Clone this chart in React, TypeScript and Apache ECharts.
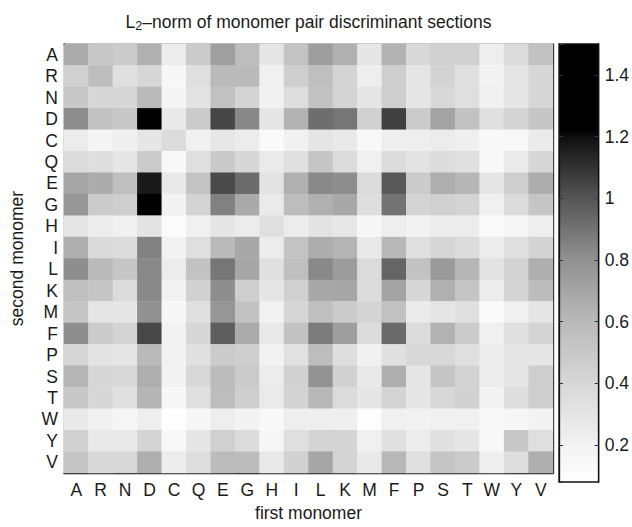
import React, { useEffect, useRef } from "react";
import * as echarts from "echarts";

// Amino-acid monomers, in the order used on both axes
const monomers = ["A", "R", "N", "D", "C", "Q", "E", "G", "H", "I", "L", "K", "M", "F", "P", "S", "T", "W", "Y", "V"];

// L2-norm of each discriminant section; one row per second monomer,
// one column per first monomer (same order as `monomers`)
const norms: number[][] = [
  /* A */ [0.67, 0.5, 0.48, 0.645, 0.245, 0.485, 0.73, 0.575, 0.3, 0.535, 0.735, 0.645, 0.29, 0.63, 0.39, 0.45, 0.445, 0.235, 0.375, 0.55],
  /* R */ [0.445, 0.575, 0.33, 0.4, 0.155, 0.345, 0.595, 0.595, 0.215, 0.46, 0.565, 0.425, 0.23, 0.46, 0.3, 0.43, 0.33, 0.19, 0.3, 0.405],
  /* N */ [0.5, 0.405, 0.405, 0.595, 0.17, 0.31, 0.55, 0.425, 0.21, 0.355, 0.54, 0.425, 0.3, 0.465, 0.3, 0.39, 0.345, 0.21, 0.3, 0.4],
  /* D */ [0.815, 0.545, 0.5, 1.5, 0.27, 0.48, 1.045, 0.83, 0.3, 0.635, 0.915, 0.89, 0.445, 1.06, 0.485, 0.71, 0.54, 0.33, 0.425, 0.515],
  /* C */ [0.245, 0.17, 0.22, 0.29, 0.36, 0.215, 0.28, 0.245, 0.13, 0.21, 0.3, 0.27, 0.145, 0.23, 0.23, 0.245, 0.22, 0.145, 0.145, 0.25],
  /* Q */ [0.36, 0.35, 0.29, 0.48, 0.145, 0.34, 0.49, 0.405, 0.26, 0.335, 0.525, 0.375, 0.215, 0.375, 0.315, 0.36, 0.33, 0.145, 0.25, 0.4],
  /* E */ [0.7, 0.665, 0.56, 1.17, 0.27, 0.535, 1.03, 0.925, 0.31, 0.645, 0.825, 0.815, 0.375, 0.99, 0.485, 0.655, 0.615, 0.29, 0.465, 0.66],
  /* G */ [0.77, 0.485, 0.465, 1.42, 0.2, 0.425, 0.855, 0.675, 0.265, 0.575, 0.645, 0.685, 0.35, 0.9, 0.425, 0.45, 0.425, 0.215, 0.36, 0.515],
  /* H */ [0.29, 0.245, 0.215, 0.31, 0.12, 0.215, 0.295, 0.245, 0.345, 0.245, 0.315, 0.28, 0.155, 0.23, 0.2, 0.245, 0.245, 0.13, 0.155, 0.23],
  /* I */ [0.655, 0.38, 0.36, 0.855, 0.2, 0.34, 0.595, 0.685, 0.245, 0.535, 0.66, 0.62, 0.27, 0.605, 0.345, 0.41, 0.36, 0.245, 0.33, 0.43],
  /* L */ [0.81, 0.595, 0.515, 0.825, 0.245, 0.54, 0.89, 0.695, 0.33, 0.56, 0.825, 0.745, 0.375, 0.945, 0.54, 0.755, 0.615, 0.315, 0.43, 0.655],
  /* K */ [0.565, 0.525, 0.375, 0.825, 0.2, 0.445, 0.81, 0.46, 0.29, 0.445, 0.685, 0.695, 0.36, 0.705, 0.405, 0.645, 0.525, 0.245, 0.42, 0.58],
  /* M */ [0.515, 0.3, 0.29, 0.8, 0.155, 0.33, 0.775, 0.54, 0.2, 0.41, 0.565, 0.48, 0.425, 0.55, 0.25, 0.3, 0.33, 0.135, 0.215, 0.3],
  /* F */ [0.81, 0.485, 0.425, 1.04, 0.2, 0.405, 0.97, 0.67, 0.27, 0.545, 0.87, 0.735, 0.36, 0.93, 0.36, 0.635, 0.485, 0.215, 0.33, 0.42],
  /* P */ [0.41, 0.315, 0.3, 0.595, 0.2, 0.33, 0.485, 0.46, 0.19, 0.325, 0.575, 0.35, 0.21, 0.33, 0.39, 0.39, 0.345, 0.245, 0.29, 0.29],
  /* S */ [0.615, 0.405, 0.39, 0.655, 0.2, 0.39, 0.58, 0.485, 0.245, 0.44, 0.79, 0.445, 0.27, 0.65, 0.29, 0.525, 0.43, 0.245, 0.29, 0.46],
  /* T */ [0.5, 0.405, 0.33, 0.62, 0.155, 0.33, 0.575, 0.46, 0.26, 0.43, 0.605, 0.375, 0.29, 0.42, 0.29, 0.39, 0.445, 0.19, 0.35, 0.465],
  /* W */ [0.27, 0.215, 0.16, 0.23, 0.09, 0.155, 0.235, 0.19, 0.145, 0.23, 0.235, 0.22, 0.1, 0.215, 0.2, 0.215, 0.215, 0.145, 0.16, 0.19],
  /* Y */ [0.445, 0.27, 0.27, 0.42, 0.145, 0.29, 0.45, 0.36, 0.16, 0.34, 0.42, 0.42, 0.215, 0.33, 0.245, 0.33, 0.29, 0.145, 0.5, 0.34],
  /* V */ [0.515, 0.39, 0.39, 0.655, 0.245, 0.35, 0.58, 0.58, 0.27, 0.44, 0.695, 0.42, 0.27, 0.605, 0.33, 0.525, 0.485, 0.22, 0.35, 0.65],
];

// Colour scale limits
const scaleMin = 0.08;
const scaleMax = 1.5;

// Gray ramp of the colour scale: [value, gray level 0-255]
const grayRamp: [number, number][] = [
  [0.08, 255],
  [0.2, 242],
  [0.4, 215],
  [0.6, 185],
  [0.8, 145],
  [1.0, 85],
  [1.2, 15],
  [1.22, 0],
  [1.5, 0],
];

function grayAt(v: number): number {
  if (v <= grayRamp[0][0]) return grayRamp[0][1];
  for (let i = 1; i < grayRamp.length; i++) {
    const [v1, g1] = grayRamp[i];
    const [v0, g0] = grayRamp[i - 1];
    if (v <= v1) return g0 + ((v - v0) / (v1 - v0)) * (g1 - g0);
  }
  return grayRamp[grayRamp.length - 1][1];
}

function grayHex(g: number): string {
  const h = Math.round(Math.max(0, Math.min(255, g))).toString(16).padStart(2, "0");
  return `#${h}${h}${h}`;
}

// Colour list for the continuous visual map, sampled every 0.01
const rampColors: string[] = [];
for (let i = 0; i <= 142; i++) {
  rampColors.push(grayHex(grayAt(scaleMin + ((scaleMax - scaleMin) * i) / 142)));
}

const FONT = "'Liberation Sans', Arial, Helvetica, sans-serif";
const FONT_SIZE = 17.5;
const INK = "#1a1a1a";

export default function App() {
  const ref = useRef<HTMLDivElement>(null);

  useEffect(() => {
    if (!ref.current) return;
    const chart = echarts.init(ref.current, undefined, { renderer: "svg" });

    const cells = norms.flatMap((row, r) => row.map((v, c) => [c, r, v]));

    const axisLine = { show: true, lineStyle: { color: "#111", width: 1.3 } };
    const catTick = { show: true, inside: true, length: 4, alignWithLabel: true, interval: 0, lineStyle: { color: "#333", width: 1 } };
    const valTick = { show: true, inside: true, length: 4, lineStyle: { color: "#333", width: 1 } };
    const tickFont = { fontFamily: FONT, fontSize: FONT_SIZE, color: INK };
    const nameFont = { fontFamily: FONT, fontSize: FONT_SIZE, color: INK };

    const barFill = new echarts.graphic.LinearGradient(
      0, 1, 0, 0,
      grayRamp.map(([v, g]) => ({ offset: (v - scaleMin) / (scaleMax - scaleMin), color: grayHex(g) }))
    );

    chart.setOption({
      animation: false,
      backgroundColor: "#fff",
      grid: [
        { left: 60, top: 44, width: 493, height: 438 },
        {
          left: 559, top: 44, width: 40, height: 438,
          show: true, borderColor: "#111", borderWidth: 1.3, backgroundColor: barFill,
        },
      ],
      xAxis: [
        {
          type: "category", gridIndex: 0, data: monomers, position: "bottom",
          axisLine, axisTick: catTick, splitLine: { show: false },
          axisLabel: { ...tickFont, margin: 8, interval: 0 },
          name: "first monomer", nameLocation: "middle", nameGap: 22,
          nameTextStyle: nameFont,
        },
        {
          type: "category", gridIndex: 0, data: monomers, position: "top",
          axisLine, axisTick: catTick, splitLine: { show: false },
          axisLabel: { show: false },
          name: "{n|L}{s|2}{n|–norm of monomer pair discriminant sections}",
          nameLocation: "middle", nameGap: 12,
          nameTextStyle: {
            rich: {
              n: { fontFamily: FONT, fontSize: FONT_SIZE, color: INK },
              s: { fontFamily: FONT, fontSize: 12.5, color: INK, padding: [8, 0, 0, 0] },
            },
          },
        },
        { type: "value", gridIndex: 1, min: 0, max: 1, show: false },
      ],
      yAxis: [
        {
          type: "category", gridIndex: 0, data: monomers, inverse: true, position: "left",
          axisLine, axisTick: catTick, splitLine: { show: false },
          axisLabel: { ...tickFont, margin: 6, interval: 0 },
          name: "second monomer", nameLocation: "middle", nameGap: 38, nameRotate: 90,
          nameTextStyle: nameFont,
        },
        {
          type: "category", gridIndex: 0, data: monomers, inverse: true, position: "right",
          axisLine, axisTick: catTick, splitLine: { show: false },
          axisLabel: { show: false },
        },
        {
          type: "value", gridIndex: 1, min: scaleMin, max: scaleMax, splitNumber: 7, position: "left",
          axisLine, axisTick: valTick, splitLine: { show: false }, axisLabel: { show: false },
        },
        {
          type: "value", gridIndex: 1, min: scaleMin, max: scaleMax, splitNumber: 7, position: "right",
          axisLine, axisTick: valTick, splitLine: { show: false },
          axisLabel: { ...tickFont, margin: 6, showMinLabel: false, showMaxLabel: false },
        },
      ],
      visualMap: {
        type: "continuous", show: false, min: scaleMin, max: scaleMax,
        dimension: 2, seriesIndex: 0, inRange: { color: rampColors },
      },
      series: [
        {
          type: "heatmap", xAxisIndex: 0, yAxisIndex: 0, data: cells,
          itemStyle: { borderWidth: 0 },
          emphasis: { disabled: true },
        },
      ],
    });

    return () => chart.dispose();
  }, []);

  return (
    <div
      ref={ref}
      style={{ position: "fixed", left: 0, top: 0, width: 632, height: 527, background: "#fff" }}
    />
  );
}
